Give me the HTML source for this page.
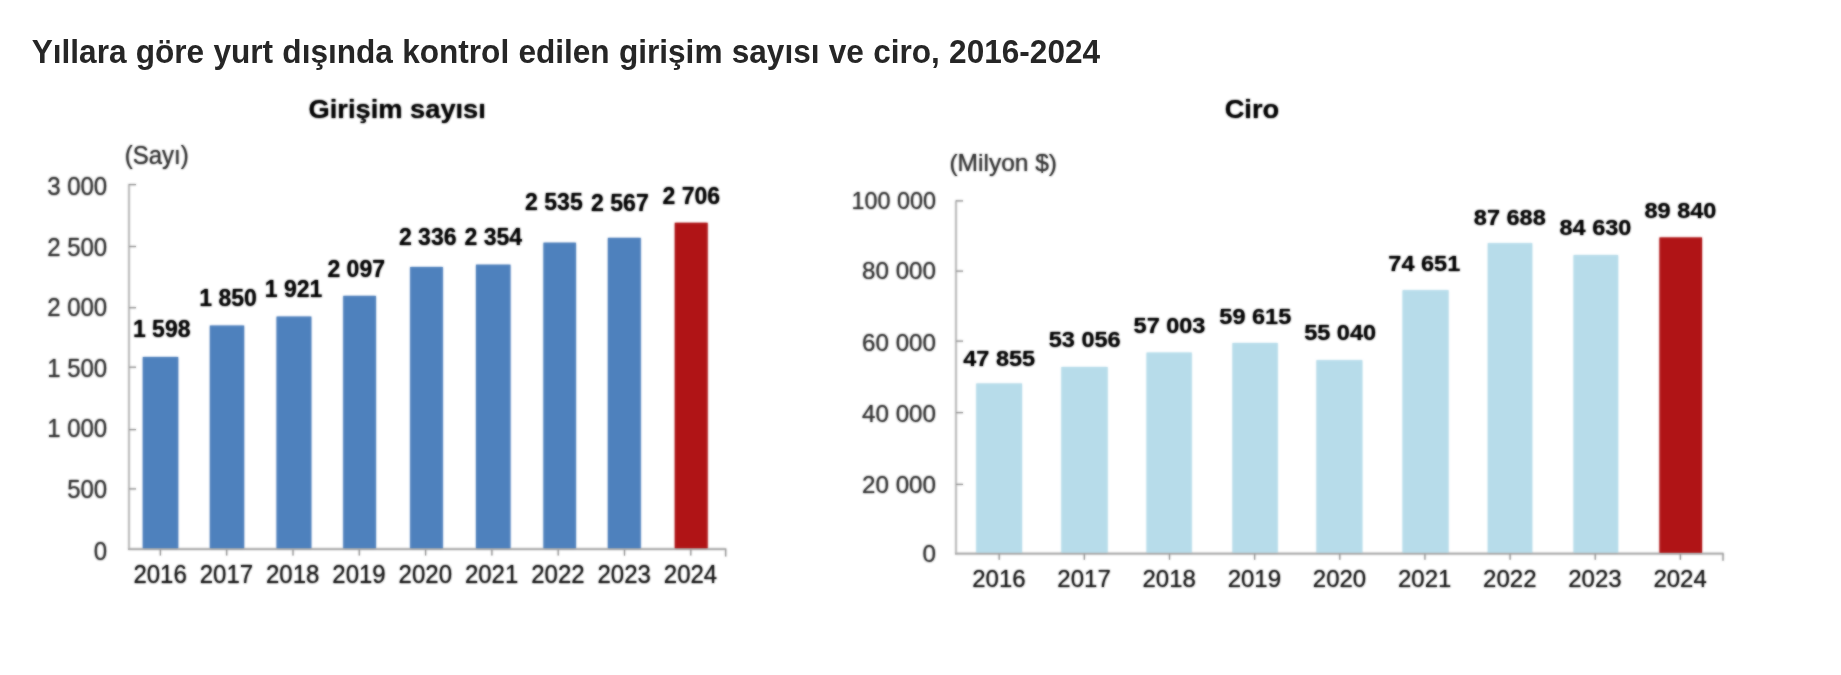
<!DOCTYPE html>
<html lang="tr">
<head>
<meta charset="utf-8">
<title>Yıllara göre yurt dışında kontrol edilen girişim sayısı ve ciro, 2016-2024</title>
<style>
html,body{margin:0;padding:0;background:#ffffff;}
body{width:1841px;height:675px;overflow:hidden;font-family:"Liberation Sans", sans-serif;}
svg{display:block;font-family:"Liberation Sans", sans-serif;}
text{white-space:pre;}
</style>
</head>
<body>
<svg width="1841" height="675" viewBox="0 0 1841 675">
<defs>
<filter id="bt" x="0" y="0" width="1841" height="675" filterUnits="userSpaceOnUse" color-interpolation-filters="sRGB"><feGaussianBlur stdDeviation="0.3"/></filter>
<filter id="bc" x="0" y="0" width="1841" height="675" filterUnits="userSpaceOnUse" color-interpolation-filters="sRGB"><feGaussianBlur stdDeviation="0.8"/></filter>
</defs>
<rect x="0" y="0" width="1841" height="675" fill="#ffffff"/>
<g filter="url(#bt)" word-spacing="0.5">
<text transform="translate(31.70 62.60) scale(0.975 1)" font-size="32.4" font-weight="700" text-anchor="start" fill="#262626">Yıllara göre yurt dışında kontrol edilen girişim sayısı ve ciro, 2016-2024</text>
</g>
<g filter="url(#bc)">
<text transform="translate(397.20 118.00) scale(1.070 1)" font-size="25.5" font-weight="700" text-anchor="middle" fill="#000000">Girişim sayısı</text>
<text transform="translate(1251.90 118.30) scale(1.070 1)" font-size="25.5" font-weight="700" text-anchor="middle" fill="#000000">Ciro</text>
<text transform="translate(156.70 164.00) scale(0.960 1)" font-size="25" font-weight="400" text-anchor="middle" fill="#303030">(Sayı)</text>
<text transform="translate(1003.20 170.70) scale(1.000 1)" font-size="24.5" font-weight="400" text-anchor="middle" fill="#303030">(Milyon $)</text>
<rect x="142.80" y="357.00" width="35.40" height="192.60" fill="#4f81bd"/>
<rect x="209.90" y="325.60" width="34.20" height="224.00" fill="#4f81bd"/>
<rect x="276.60" y="316.60" width="34.70" height="233.00" fill="#4f81bd"/>
<rect x="343.30" y="295.90" width="32.60" height="253.70" fill="#4f81bd"/>
<rect x="410.20" y="267.00" width="32.60" height="282.60" fill="#4f81bd"/>
<rect x="476.00" y="264.70" width="34.40" height="284.90" fill="#4f81bd"/>
<rect x="543.50" y="242.70" width="32.40" height="306.90" fill="#4f81bd"/>
<rect x="607.90" y="237.90" width="32.80" height="311.70" fill="#4f81bd"/>
<rect x="674.80" y="222.80" width="32.80" height="326.80" fill="#b01517"/>
<line x1="129.00" y1="184.10" x2="129.00" y2="550.10" stroke="#bdbdbd" stroke-width="1.8"/>
<line x1="128.10" y1="549.10" x2="726.20" y2="549.10" stroke="#a8a8a8" stroke-width="1.8"/>
<text transform="translate(107.20 559.90) scale(0.960 1)" font-size="25" font-weight="400" text-anchor="end" fill="#303030">0</text>
<line x1="129.00" y1="488.90" x2="136.00" y2="488.90" stroke="#969696" stroke-width="1.2"/>
<text transform="translate(107.20 497.50) scale(0.960 1)" font-size="25" font-weight="400" text-anchor="end" fill="#303030">500</text>
<line x1="129.00" y1="429.60" x2="136.00" y2="429.60" stroke="#969696" stroke-width="1.2"/>
<text transform="translate(107.20 437.40) scale(0.960 1)" font-size="25" font-weight="400" text-anchor="end" fill="#303030">1 000</text>
<line x1="129.00" y1="367.20" x2="136.00" y2="367.20" stroke="#969696" stroke-width="1.2"/>
<text transform="translate(107.20 377.00) scale(0.960 1)" font-size="25" font-weight="400" text-anchor="end" fill="#303030">1 500</text>
<line x1="129.00" y1="307.70" x2="136.00" y2="307.70" stroke="#969696" stroke-width="1.2"/>
<text transform="translate(107.20 316.00) scale(0.960 1)" font-size="25" font-weight="400" text-anchor="end" fill="#303030">2 000</text>
<line x1="129.00" y1="246.50" x2="136.00" y2="246.50" stroke="#969696" stroke-width="1.2"/>
<text transform="translate(107.20 256.00) scale(0.960 1)" font-size="25" font-weight="400" text-anchor="end" fill="#303030">2 500</text>
<line x1="129.00" y1="184.60" x2="136.00" y2="184.60" stroke="#969696" stroke-width="1.2"/>
<text transform="translate(107.20 195.30) scale(0.960 1)" font-size="25" font-weight="400" text-anchor="end" fill="#303030">3 000</text>
<line x1="160.40" y1="549.60" x2="160.40" y2="555.60" stroke="#969696" stroke-width="1.2"/>
<text transform="translate(160.10 583.20) scale(0.960 1)" font-size="25" font-weight="400" text-anchor="middle" fill="#141414">2016</text>
<line x1="226.70" y1="549.60" x2="226.70" y2="555.60" stroke="#969696" stroke-width="1.2"/>
<text transform="translate(226.40 583.20) scale(0.960 1)" font-size="25" font-weight="400" text-anchor="middle" fill="#141414">2017</text>
<line x1="293.00" y1="549.60" x2="293.00" y2="555.60" stroke="#969696" stroke-width="1.2"/>
<text transform="translate(292.70 583.20) scale(0.960 1)" font-size="25" font-weight="400" text-anchor="middle" fill="#141414">2018</text>
<line x1="359.30" y1="549.60" x2="359.30" y2="555.60" stroke="#969696" stroke-width="1.2"/>
<text transform="translate(359.00 583.20) scale(0.960 1)" font-size="25" font-weight="400" text-anchor="middle" fill="#141414">2019</text>
<line x1="425.60" y1="549.60" x2="425.60" y2="555.60" stroke="#969696" stroke-width="1.2"/>
<text transform="translate(425.30 583.20) scale(0.960 1)" font-size="25" font-weight="400" text-anchor="middle" fill="#141414">2020</text>
<line x1="491.90" y1="549.60" x2="491.90" y2="555.60" stroke="#969696" stroke-width="1.2"/>
<text transform="translate(491.60 583.20) scale(0.960 1)" font-size="25" font-weight="400" text-anchor="middle" fill="#141414">2021</text>
<line x1="558.20" y1="549.60" x2="558.20" y2="555.60" stroke="#969696" stroke-width="1.2"/>
<text transform="translate(557.90 583.20) scale(0.960 1)" font-size="25" font-weight="400" text-anchor="middle" fill="#141414">2022</text>
<line x1="624.50" y1="549.60" x2="624.50" y2="555.60" stroke="#969696" stroke-width="1.2"/>
<text transform="translate(624.20 583.20) scale(0.960 1)" font-size="25" font-weight="400" text-anchor="middle" fill="#141414">2023</text>
<line x1="690.80" y1="549.60" x2="690.80" y2="555.60" stroke="#969696" stroke-width="1.2"/>
<text transform="translate(690.50 583.20) scale(0.960 1)" font-size="25" font-weight="400" text-anchor="middle" fill="#141414">2024</text>
<line x1="725.70" y1="549.60" x2="725.70" y2="556.60" stroke="#969696" stroke-width="1.2"/>
<text transform="translate(161.70 337.00) scale(1.000 1)" font-size="23" font-weight="700" text-anchor="middle" fill="#000000">1 598</text>
<text transform="translate(228.00 306.30) scale(1.000 1)" font-size="23" font-weight="700" text-anchor="middle" fill="#000000">1 850</text>
<text transform="translate(293.50 296.90) scale(1.000 1)" font-size="23" font-weight="700" text-anchor="middle" fill="#000000">1 921</text>
<text transform="translate(356.20 276.80) scale(1.000 1)" font-size="23" font-weight="700" text-anchor="middle" fill="#000000">2 097</text>
<text transform="translate(427.70 245.40) scale(1.000 1)" font-size="23" font-weight="700" text-anchor="middle" fill="#000000">2 336</text>
<text transform="translate(493.30 245.40) scale(1.000 1)" font-size="23" font-weight="700" text-anchor="middle" fill="#000000">2 354</text>
<text transform="translate(553.90 209.70) scale(1.000 1)" font-size="23" font-weight="700" text-anchor="middle" fill="#000000">2 535</text>
<text transform="translate(619.90 211.10) scale(1.000 1)" font-size="23" font-weight="700" text-anchor="middle" fill="#000000">2 567</text>
<text transform="translate(691.30 203.50) scale(1.000 1)" font-size="23" font-weight="700" text-anchor="middle" fill="#000000">2 706</text>
<rect x="976.30" y="383.50" width="45.70" height="170.20" fill="#b7dcea"/>
<rect x="1061.40" y="367.00" width="46.20" height="186.70" fill="#b7dcea"/>
<rect x="1146.60" y="352.60" width="45.10" height="201.10" fill="#b7dcea"/>
<rect x="1232.50" y="343.00" width="45.20" height="210.70" fill="#b7dcea"/>
<rect x="1316.50" y="360.20" width="45.80" height="193.50" fill="#b7dcea"/>
<rect x="1402.60" y="290.20" width="45.90" height="263.50" fill="#b7dcea"/>
<rect x="1487.80" y="243.20" width="44.40" height="310.50" fill="#b7dcea"/>
<rect x="1573.60" y="255.10" width="44.50" height="298.60" fill="#b7dcea"/>
<rect x="1659.50" y="237.50" width="42.50" height="316.20" fill="#b01517"/>
<line x1="956.00" y1="200.40" x2="956.00" y2="554.20" stroke="#bdbdbd" stroke-width="1.8"/>
<line x1="955.10" y1="553.70" x2="1723.50" y2="553.70" stroke="#a8a8a8" stroke-width="1.8"/>
<text transform="translate(936.00 562.40) scale(1.008 1)" font-size="24" font-weight="400" text-anchor="end" fill="#303030">0</text>
<line x1="956.00" y1="484.40" x2="963.00" y2="484.40" stroke="#969696" stroke-width="1.2"/>
<text transform="translate(936.00 492.80) scale(1.008 1)" font-size="24" font-weight="400" text-anchor="end" fill="#303030">20 000</text>
<line x1="956.00" y1="412.60" x2="963.00" y2="412.60" stroke="#969696" stroke-width="1.2"/>
<text transform="translate(936.00 421.90) scale(1.008 1)" font-size="24" font-weight="400" text-anchor="end" fill="#303030">40 000</text>
<line x1="956.00" y1="341.10" x2="963.00" y2="341.10" stroke="#969696" stroke-width="1.2"/>
<text transform="translate(936.00 351.20) scale(1.008 1)" font-size="24" font-weight="400" text-anchor="end" fill="#303030">60 000</text>
<line x1="956.00" y1="271.10" x2="963.00" y2="271.10" stroke="#969696" stroke-width="1.2"/>
<text transform="translate(936.00 278.60) scale(1.008 1)" font-size="24" font-weight="400" text-anchor="end" fill="#303030">80 000</text>
<line x1="956.00" y1="200.90" x2="963.00" y2="200.90" stroke="#969696" stroke-width="1.2"/>
<text transform="translate(936.00 208.80) scale(0.974 1)" font-size="24" font-weight="400" text-anchor="end" fill="#303030">100 000</text>
<line x1="999.20" y1="553.70" x2="999.20" y2="559.70" stroke="#969696" stroke-width="1.2"/>
<text transform="translate(998.90 586.50) scale(1.000 1)" font-size="24" font-weight="400" text-anchor="middle" fill="#141414">2016</text>
<line x1="1084.35" y1="553.70" x2="1084.35" y2="559.70" stroke="#969696" stroke-width="1.2"/>
<text transform="translate(1084.05 586.50) scale(1.000 1)" font-size="24" font-weight="400" text-anchor="middle" fill="#141414">2017</text>
<line x1="1169.50" y1="553.70" x2="1169.50" y2="559.70" stroke="#969696" stroke-width="1.2"/>
<text transform="translate(1169.20 586.50) scale(1.000 1)" font-size="24" font-weight="400" text-anchor="middle" fill="#141414">2018</text>
<line x1="1254.65" y1="553.70" x2="1254.65" y2="559.70" stroke="#969696" stroke-width="1.2"/>
<text transform="translate(1254.35 586.50) scale(1.000 1)" font-size="24" font-weight="400" text-anchor="middle" fill="#141414">2019</text>
<line x1="1339.80" y1="553.70" x2="1339.80" y2="559.70" stroke="#969696" stroke-width="1.2"/>
<text transform="translate(1339.50 586.50) scale(1.000 1)" font-size="24" font-weight="400" text-anchor="middle" fill="#141414">2020</text>
<line x1="1424.95" y1="553.70" x2="1424.95" y2="559.70" stroke="#969696" stroke-width="1.2"/>
<text transform="translate(1424.65 586.50) scale(1.000 1)" font-size="24" font-weight="400" text-anchor="middle" fill="#141414">2021</text>
<line x1="1510.10" y1="553.70" x2="1510.10" y2="559.70" stroke="#969696" stroke-width="1.2"/>
<text transform="translate(1509.80 586.50) scale(1.000 1)" font-size="24" font-weight="400" text-anchor="middle" fill="#141414">2022</text>
<line x1="1595.25" y1="553.70" x2="1595.25" y2="559.70" stroke="#969696" stroke-width="1.2"/>
<text transform="translate(1594.95 586.50) scale(1.000 1)" font-size="24" font-weight="400" text-anchor="middle" fill="#141414">2023</text>
<line x1="1680.40" y1="553.70" x2="1680.40" y2="559.70" stroke="#969696" stroke-width="1.2"/>
<text transform="translate(1680.10 586.50) scale(1.000 1)" font-size="24" font-weight="400" text-anchor="middle" fill="#141414">2024</text>
<line x1="1723.00" y1="553.70" x2="1723.00" y2="560.70" stroke="#969696" stroke-width="1.2"/>
<text transform="translate(999.20 365.50) scale(1.045 1)" font-size="22.5" font-weight="700" text-anchor="middle" fill="#000000">47 855</text>
<text transform="translate(1084.70 346.60) scale(1.045 1)" font-size="22.5" font-weight="700" text-anchor="middle" fill="#000000">53 056</text>
<text transform="translate(1169.50 332.80) scale(1.045 1)" font-size="22.5" font-weight="700" text-anchor="middle" fill="#000000">57 003</text>
<text transform="translate(1255.30 324.40) scale(1.045 1)" font-size="22.5" font-weight="700" text-anchor="middle" fill="#000000">59 615</text>
<text transform="translate(1340.10 340.10) scale(1.045 1)" font-size="22.5" font-weight="700" text-anchor="middle" fill="#000000">55 040</text>
<text transform="translate(1424.30 271.10) scale(1.045 1)" font-size="22.5" font-weight="700" text-anchor="middle" fill="#000000">74 651</text>
<text transform="translate(1509.80 225.00) scale(1.045 1)" font-size="22.5" font-weight="700" text-anchor="middle" fill="#000000">87 688</text>
<text transform="translate(1595.40 235.10) scale(1.045 1)" font-size="22.5" font-weight="700" text-anchor="middle" fill="#000000">84 630</text>
<text transform="translate(1680.40 218.20) scale(1.045 1)" font-size="22.5" font-weight="700" text-anchor="middle" fill="#000000">89 840</text>
</g>
<g opacity="0.5">
<text transform="translate(397.20 118.00) scale(1.070 1)" font-size="25.5" font-weight="700" text-anchor="middle" fill="#000000">Girişim sayısı</text>
<text transform="translate(1251.90 118.30) scale(1.070 1)" font-size="25.5" font-weight="700" text-anchor="middle" fill="#000000">Ciro</text>
<text transform="translate(156.70 164.00) scale(0.960 1)" font-size="25" font-weight="400" text-anchor="middle" fill="#303030">(Sayı)</text>
<text transform="translate(1003.20 170.70) scale(1.000 1)" font-size="24.5" font-weight="400" text-anchor="middle" fill="#303030">(Milyon $)</text>
<rect x="142.80" y="357.00" width="35.40" height="192.60" fill="#4f81bd"/>
<rect x="209.90" y="325.60" width="34.20" height="224.00" fill="#4f81bd"/>
<rect x="276.60" y="316.60" width="34.70" height="233.00" fill="#4f81bd"/>
<rect x="343.30" y="295.90" width="32.60" height="253.70" fill="#4f81bd"/>
<rect x="410.20" y="267.00" width="32.60" height="282.60" fill="#4f81bd"/>
<rect x="476.00" y="264.70" width="34.40" height="284.90" fill="#4f81bd"/>
<rect x="543.50" y="242.70" width="32.40" height="306.90" fill="#4f81bd"/>
<rect x="607.90" y="237.90" width="32.80" height="311.70" fill="#4f81bd"/>
<rect x="674.80" y="222.80" width="32.80" height="326.80" fill="#b01517"/>
<line x1="129.00" y1="184.10" x2="129.00" y2="550.10" stroke="#bdbdbd" stroke-width="1.8"/>
<line x1="128.10" y1="549.10" x2="726.20" y2="549.10" stroke="#a8a8a8" stroke-width="1.8"/>
<text transform="translate(107.20 559.90) scale(0.960 1)" font-size="25" font-weight="400" text-anchor="end" fill="#303030">0</text>
<line x1="129.00" y1="488.90" x2="136.00" y2="488.90" stroke="#969696" stroke-width="1.2"/>
<text transform="translate(107.20 497.50) scale(0.960 1)" font-size="25" font-weight="400" text-anchor="end" fill="#303030">500</text>
<line x1="129.00" y1="429.60" x2="136.00" y2="429.60" stroke="#969696" stroke-width="1.2"/>
<text transform="translate(107.20 437.40) scale(0.960 1)" font-size="25" font-weight="400" text-anchor="end" fill="#303030">1 000</text>
<line x1="129.00" y1="367.20" x2="136.00" y2="367.20" stroke="#969696" stroke-width="1.2"/>
<text transform="translate(107.20 377.00) scale(0.960 1)" font-size="25" font-weight="400" text-anchor="end" fill="#303030">1 500</text>
<line x1="129.00" y1="307.70" x2="136.00" y2="307.70" stroke="#969696" stroke-width="1.2"/>
<text transform="translate(107.20 316.00) scale(0.960 1)" font-size="25" font-weight="400" text-anchor="end" fill="#303030">2 000</text>
<line x1="129.00" y1="246.50" x2="136.00" y2="246.50" stroke="#969696" stroke-width="1.2"/>
<text transform="translate(107.20 256.00) scale(0.960 1)" font-size="25" font-weight="400" text-anchor="end" fill="#303030">2 500</text>
<line x1="129.00" y1="184.60" x2="136.00" y2="184.60" stroke="#969696" stroke-width="1.2"/>
<text transform="translate(107.20 195.30) scale(0.960 1)" font-size="25" font-weight="400" text-anchor="end" fill="#303030">3 000</text>
<line x1="160.40" y1="549.60" x2="160.40" y2="555.60" stroke="#969696" stroke-width="1.2"/>
<text transform="translate(160.10 583.20) scale(0.960 1)" font-size="25" font-weight="400" text-anchor="middle" fill="#141414">2016</text>
<line x1="226.70" y1="549.60" x2="226.70" y2="555.60" stroke="#969696" stroke-width="1.2"/>
<text transform="translate(226.40 583.20) scale(0.960 1)" font-size="25" font-weight="400" text-anchor="middle" fill="#141414">2017</text>
<line x1="293.00" y1="549.60" x2="293.00" y2="555.60" stroke="#969696" stroke-width="1.2"/>
<text transform="translate(292.70 583.20) scale(0.960 1)" font-size="25" font-weight="400" text-anchor="middle" fill="#141414">2018</text>
<line x1="359.30" y1="549.60" x2="359.30" y2="555.60" stroke="#969696" stroke-width="1.2"/>
<text transform="translate(359.00 583.20) scale(0.960 1)" font-size="25" font-weight="400" text-anchor="middle" fill="#141414">2019</text>
<line x1="425.60" y1="549.60" x2="425.60" y2="555.60" stroke="#969696" stroke-width="1.2"/>
<text transform="translate(425.30 583.20) scale(0.960 1)" font-size="25" font-weight="400" text-anchor="middle" fill="#141414">2020</text>
<line x1="491.90" y1="549.60" x2="491.90" y2="555.60" stroke="#969696" stroke-width="1.2"/>
<text transform="translate(491.60 583.20) scale(0.960 1)" font-size="25" font-weight="400" text-anchor="middle" fill="#141414">2021</text>
<line x1="558.20" y1="549.60" x2="558.20" y2="555.60" stroke="#969696" stroke-width="1.2"/>
<text transform="translate(557.90 583.20) scale(0.960 1)" font-size="25" font-weight="400" text-anchor="middle" fill="#141414">2022</text>
<line x1="624.50" y1="549.60" x2="624.50" y2="555.60" stroke="#969696" stroke-width="1.2"/>
<text transform="translate(624.20 583.20) scale(0.960 1)" font-size="25" font-weight="400" text-anchor="middle" fill="#141414">2023</text>
<line x1="690.80" y1="549.60" x2="690.80" y2="555.60" stroke="#969696" stroke-width="1.2"/>
<text transform="translate(690.50 583.20) scale(0.960 1)" font-size="25" font-weight="400" text-anchor="middle" fill="#141414">2024</text>
<line x1="725.70" y1="549.60" x2="725.70" y2="556.60" stroke="#969696" stroke-width="1.2"/>
<text transform="translate(161.70 337.00) scale(1.000 1)" font-size="23" font-weight="700" text-anchor="middle" fill="#000000">1 598</text>
<text transform="translate(228.00 306.30) scale(1.000 1)" font-size="23" font-weight="700" text-anchor="middle" fill="#000000">1 850</text>
<text transform="translate(293.50 296.90) scale(1.000 1)" font-size="23" font-weight="700" text-anchor="middle" fill="#000000">1 921</text>
<text transform="translate(356.20 276.80) scale(1.000 1)" font-size="23" font-weight="700" text-anchor="middle" fill="#000000">2 097</text>
<text transform="translate(427.70 245.40) scale(1.000 1)" font-size="23" font-weight="700" text-anchor="middle" fill="#000000">2 336</text>
<text transform="translate(493.30 245.40) scale(1.000 1)" font-size="23" font-weight="700" text-anchor="middle" fill="#000000">2 354</text>
<text transform="translate(553.90 209.70) scale(1.000 1)" font-size="23" font-weight="700" text-anchor="middle" fill="#000000">2 535</text>
<text transform="translate(619.90 211.10) scale(1.000 1)" font-size="23" font-weight="700" text-anchor="middle" fill="#000000">2 567</text>
<text transform="translate(691.30 203.50) scale(1.000 1)" font-size="23" font-weight="700" text-anchor="middle" fill="#000000">2 706</text>
<rect x="976.30" y="383.50" width="45.70" height="170.20" fill="#b7dcea"/>
<rect x="1061.40" y="367.00" width="46.20" height="186.70" fill="#b7dcea"/>
<rect x="1146.60" y="352.60" width="45.10" height="201.10" fill="#b7dcea"/>
<rect x="1232.50" y="343.00" width="45.20" height="210.70" fill="#b7dcea"/>
<rect x="1316.50" y="360.20" width="45.80" height="193.50" fill="#b7dcea"/>
<rect x="1402.60" y="290.20" width="45.90" height="263.50" fill="#b7dcea"/>
<rect x="1487.80" y="243.20" width="44.40" height="310.50" fill="#b7dcea"/>
<rect x="1573.60" y="255.10" width="44.50" height="298.60" fill="#b7dcea"/>
<rect x="1659.50" y="237.50" width="42.50" height="316.20" fill="#b01517"/>
<line x1="956.00" y1="200.40" x2="956.00" y2="554.20" stroke="#bdbdbd" stroke-width="1.8"/>
<line x1="955.10" y1="553.70" x2="1723.50" y2="553.70" stroke="#a8a8a8" stroke-width="1.8"/>
<text transform="translate(936.00 562.40) scale(1.008 1)" font-size="24" font-weight="400" text-anchor="end" fill="#303030">0</text>
<line x1="956.00" y1="484.40" x2="963.00" y2="484.40" stroke="#969696" stroke-width="1.2"/>
<text transform="translate(936.00 492.80) scale(1.008 1)" font-size="24" font-weight="400" text-anchor="end" fill="#303030">20 000</text>
<line x1="956.00" y1="412.60" x2="963.00" y2="412.60" stroke="#969696" stroke-width="1.2"/>
<text transform="translate(936.00 421.90) scale(1.008 1)" font-size="24" font-weight="400" text-anchor="end" fill="#303030">40 000</text>
<line x1="956.00" y1="341.10" x2="963.00" y2="341.10" stroke="#969696" stroke-width="1.2"/>
<text transform="translate(936.00 351.20) scale(1.008 1)" font-size="24" font-weight="400" text-anchor="end" fill="#303030">60 000</text>
<line x1="956.00" y1="271.10" x2="963.00" y2="271.10" stroke="#969696" stroke-width="1.2"/>
<text transform="translate(936.00 278.60) scale(1.008 1)" font-size="24" font-weight="400" text-anchor="end" fill="#303030">80 000</text>
<line x1="956.00" y1="200.90" x2="963.00" y2="200.90" stroke="#969696" stroke-width="1.2"/>
<text transform="translate(936.00 208.80) scale(0.974 1)" font-size="24" font-weight="400" text-anchor="end" fill="#303030">100 000</text>
<line x1="999.20" y1="553.70" x2="999.20" y2="559.70" stroke="#969696" stroke-width="1.2"/>
<text transform="translate(998.90 586.50) scale(1.000 1)" font-size="24" font-weight="400" text-anchor="middle" fill="#141414">2016</text>
<line x1="1084.35" y1="553.70" x2="1084.35" y2="559.70" stroke="#969696" stroke-width="1.2"/>
<text transform="translate(1084.05 586.50) scale(1.000 1)" font-size="24" font-weight="400" text-anchor="middle" fill="#141414">2017</text>
<line x1="1169.50" y1="553.70" x2="1169.50" y2="559.70" stroke="#969696" stroke-width="1.2"/>
<text transform="translate(1169.20 586.50) scale(1.000 1)" font-size="24" font-weight="400" text-anchor="middle" fill="#141414">2018</text>
<line x1="1254.65" y1="553.70" x2="1254.65" y2="559.70" stroke="#969696" stroke-width="1.2"/>
<text transform="translate(1254.35 586.50) scale(1.000 1)" font-size="24" font-weight="400" text-anchor="middle" fill="#141414">2019</text>
<line x1="1339.80" y1="553.70" x2="1339.80" y2="559.70" stroke="#969696" stroke-width="1.2"/>
<text transform="translate(1339.50 586.50) scale(1.000 1)" font-size="24" font-weight="400" text-anchor="middle" fill="#141414">2020</text>
<line x1="1424.95" y1="553.70" x2="1424.95" y2="559.70" stroke="#969696" stroke-width="1.2"/>
<text transform="translate(1424.65 586.50) scale(1.000 1)" font-size="24" font-weight="400" text-anchor="middle" fill="#141414">2021</text>
<line x1="1510.10" y1="553.70" x2="1510.10" y2="559.70" stroke="#969696" stroke-width="1.2"/>
<text transform="translate(1509.80 586.50) scale(1.000 1)" font-size="24" font-weight="400" text-anchor="middle" fill="#141414">2022</text>
<line x1="1595.25" y1="553.70" x2="1595.25" y2="559.70" stroke="#969696" stroke-width="1.2"/>
<text transform="translate(1594.95 586.50) scale(1.000 1)" font-size="24" font-weight="400" text-anchor="middle" fill="#141414">2023</text>
<line x1="1680.40" y1="553.70" x2="1680.40" y2="559.70" stroke="#969696" stroke-width="1.2"/>
<text transform="translate(1680.10 586.50) scale(1.000 1)" font-size="24" font-weight="400" text-anchor="middle" fill="#141414">2024</text>
<line x1="1723.00" y1="553.70" x2="1723.00" y2="560.70" stroke="#969696" stroke-width="1.2"/>
<text transform="translate(999.20 365.50) scale(1.045 1)" font-size="22.5" font-weight="700" text-anchor="middle" fill="#000000">47 855</text>
<text transform="translate(1084.70 346.60) scale(1.045 1)" font-size="22.5" font-weight="700" text-anchor="middle" fill="#000000">53 056</text>
<text transform="translate(1169.50 332.80) scale(1.045 1)" font-size="22.5" font-weight="700" text-anchor="middle" fill="#000000">57 003</text>
<text transform="translate(1255.30 324.40) scale(1.045 1)" font-size="22.5" font-weight="700" text-anchor="middle" fill="#000000">59 615</text>
<text transform="translate(1340.10 340.10) scale(1.045 1)" font-size="22.5" font-weight="700" text-anchor="middle" fill="#000000">55 040</text>
<text transform="translate(1424.30 271.10) scale(1.045 1)" font-size="22.5" font-weight="700" text-anchor="middle" fill="#000000">74 651</text>
<text transform="translate(1509.80 225.00) scale(1.045 1)" font-size="22.5" font-weight="700" text-anchor="middle" fill="#000000">87 688</text>
<text transform="translate(1595.40 235.10) scale(1.045 1)" font-size="22.5" font-weight="700" text-anchor="middle" fill="#000000">84 630</text>
<text transform="translate(1680.40 218.20) scale(1.045 1)" font-size="22.5" font-weight="700" text-anchor="middle" fill="#000000">89 840</text>
</g>
</svg>
</body>
</html>
